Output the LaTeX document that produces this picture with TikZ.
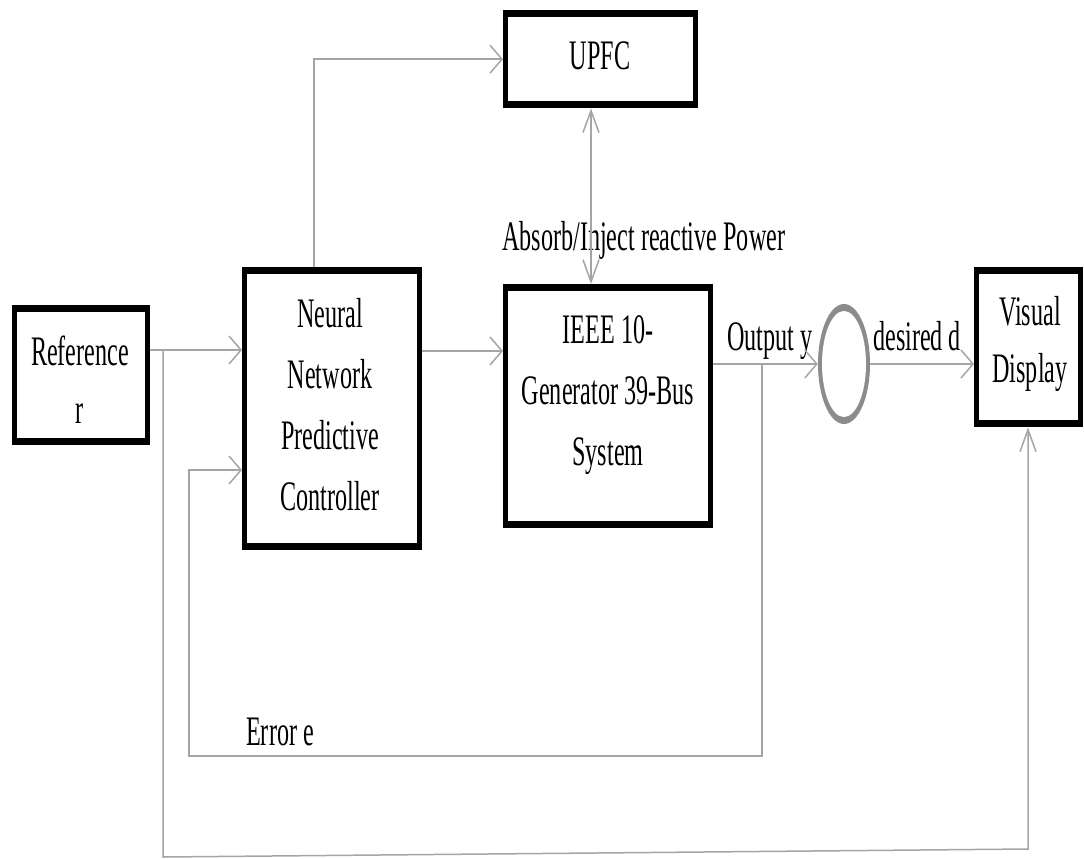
\documentclass[tikz,border=0pt]{standalone}
\usepackage{fontspec}
\setmainfont{Liberation Serif}[FakeStretch=0.575]
\usetikzlibrary{arrows.meta,shapes.geometric,calc}
\definecolor{lineg}{RGB}{165,165,165}
\definecolor{ellg}{RGB}{140,140,140}
\tikzset{
  blk/.style={rectangle, fill=black, inner sep=0pt, anchor=north west,
    path picture={\fill[white] ([xshift=5pt,yshift=7pt]path picture bounding box.south west)
      rectangle ([xshift=-5pt,yshift=-7pt]path picture bounding box.north east);}},
  txt/.style={inner sep=0pt, align=center, font=\fontsize{42}{#1}\selectfont},
  txt/.default=61,
  conn/.style={draw=lineg, line width=1.5pt},
  harr/.style={-{Straight Barb[length=12pt,width=28pt]}},
  varr/.style={-{Straight Barb[length=22pt,width=16pt]}},
  dvarr/.style={{Straight Barb[length=22pt,width=16pt]}-{Straight Barb[length=22pt,width=16pt]}}
}
\begin{document}
\begin{tikzpicture}[x=1pt,y=-1pt]
\fill[white] (0,0) rectangle (1084,859);
\useasboundingbox (0,0) rectangle (1084,859);
% boxes
\node[blk, minimum width=138pt, minimum height=140pt] (ref) at (12,305) {};
\node[blk, minimum width=180pt, minimum height=283pt] (nn) at (242,267) {};
\node[blk, minimum width=210pt, minimum height=244pt] (ieee) at (503,284) {};
\node[blk, minimum width=195pt, minimum height=98pt] (upfc) at (503,10) {};
\node[blk, minimum width=109pt, minimum height=160pt] (vd) at (974,267) {};
\node[ellipse, fill=ellg, minimum width=52pt, minimum height=120pt, inner sep=0pt,
  path picture={\fill[white] (path picture bounding box.center) ellipse [x radius=22pt, y radius=53pt];}]
  (ell) at (844,364) {};
% box texts
\node[txt=58] (refT) at (80,379.7) {Reference\\r};
\node[txt=61] (nnT) at (330,405) {Neural\\Network\\Predictive\\Controller};
\node[txt=61] (ieeeT) at (608,395.4) {IEEE 10-\\Generator 39-Bus\\System};
\node[txt, anchor=base] (upfcT) at (600,70) {UPFC};
\node[txt=57] (vdT) at (1030,343.7) {Visual\\Display};
% labels
\node[txt, anchor=base west] (absT) at (502,250) {Absorb/Inject reactive Power};
\node[txt, anchor=base west] (outT) at (727,350) {Output y};
\node[txt, anchor=base west] (desT) at (873,350) {desired d};
\node[txt, anchor=base west] (errT) at (246,745) {Error e};
% connectors
\coordinate (jR) at (163,350);
\coordinate (bl) at (163,857);
\coordinate (br) at (1028,849);
\coordinate (jE) at (762,364);
\coordinate (errL) at (189,756);
\draw[conn,harr] (ref.east |- 0,350) -- (nn.west |- 0,350);
\draw[conn,harr] ($(nn.north west)+(72,0)$) |- (upfc.west);
\draw[conn,harr] (nn.east |- 0,351) -- (ieee.west |- 0,351);
\draw[conn,dvarr] (upfc.south -| 591,0) -- (ieee.north -| 591,0);
\draw[conn,harr] (ieee.east |- ell.west) -- (ell.west);
\draw[conn,harr] (ell.east) -- (vd.west |- ell.east);
\draw[conn,harr] (jE) |- (errL) |- (nn.west |- 0,470);
\draw[conn,varr] (jR) -- (bl) -- (br) -- (vd.south -| br);
\end{tikzpicture}
\end{document}
